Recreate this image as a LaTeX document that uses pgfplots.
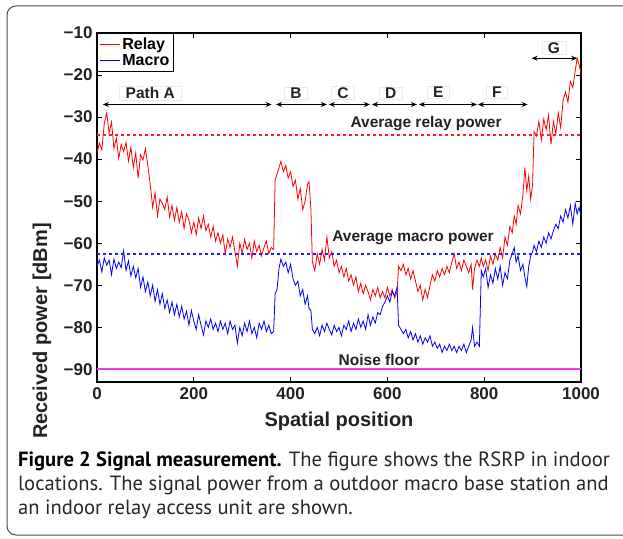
\documentclass[border=0pt]{standalone}
\usepackage{pgfplots}
\pgfplotsset{compat=1.18}
\usepackage{pgfplotstable}
\usetikzlibrary{arrows.meta}
\usepackage{fontspec}
\setmainfont{Liberation Sans}
\newfontfamily\capfont{PT Sans}
\definecolor{nf}{RGB}{240,60,240}
\definecolor{ravg}{RGB}{255,30,30}
\definecolor{mavg}{RGB}{30,30,255}
\definecolor{txt}{RGB}{34,34,34}

\pgfplotstableread{
x r m
0 -38.5 -65.5
5 -36.2 -64.0
10 -37.8 -66.8
15 -31.5 -63.5
20 -29.0 -65.2
25 -33.8 -64.0
30 -31.2 -67.5
35 -37.5 -63.8
40 -35.0 -66.0
45 -39.8 -64.5
50 -36.5 -65.8
55 -38.2 -61.8
60 -36.0 -66.5
65 -40.5 -64.2
70 -37.2 -67.8
75 -42.0 -65.5
80 -38.5 -68.2
85 -44.5 -66.0
90 -39.0 -70.5
95 -40.2 -68.0
100 -37.5 -71.5
105 -41.5 -69.2
110 -46.0 -72.5
115 -51.5 -70.0
120 -48.0 -73.8
125 -53.5 -71.0
130 -49.5 -74.5
135 -50.5 -72.0
140 -52.0 -75.5
145 -49.0 -73.5
150 -53.8 -76.5
155 -51.0 -74.0
160 -54.5 -77.0
165 -51.5 -74.5
170 -55.0 -77.5
175 -52.5 -75.0
180 -56.5 -78.0
185 -53.0 -76.2
190 -54.5 -79.5
195 -57.5 -76.0
200 -55.0 -78.5
205 -58.0 -80.5
210 -54.0 -77.0
215 -56.5 -79.5
220 -53.5 -81.8
225 -57.0 -78.5
230 -55.5 -80.0
235 -58.5 -78.0
240 -56.0 -80.5
245 -59.5 -79.0
250 -57.5 -81.0
255 -60.0 -78.5
260 -58.0 -80.5
265 -62.5 -79.0
270 -59.0 -81.5
275 -61.0 -78.5
280 -58.5 -80.5
285 -62.0 -79.5
290 -65.5 -83.8
295 -60.0 -80.0
300 -62.5 -82.0
305 -59.0 -79.0
310 -61.5 -81.0
315 -60.0 -78.5
320 -63.5 -81.5
325 -59.5 -80.0
330 -62.0 -82.5
335 -60.5 -79.0
340 -63.0 -80.5
345 -61.0 -78.5
350 -59.5 -81.0
355 -62.5 -79.5
360 -61.0 -81.5
365 -61.5 -81.0
368 -45.0 -72.0
372 -43.5 -71.0
376 -42.0 -66.0
380 -40.5 -63.8
385 -43.0 -65.5
390 -41.5 -64.5
395 -44.5 -67.0
400 -43.0 -65.0
405 -46.5 -68.5
410 -45.0 -70.0
415 -49.5 -69.0
420 -47.0 -72.5
425 -52.0 -71.0
430 -50.0 -74.5
435 -46.0 -72.5
438 -45.3 -75.5
442 -52.0 -76.0
445 -64.5 -80.5
450 -66.5 -81.5
455 -62.5 -80.0
460 -65.0 -82.0
465 -61.5 -79.5
470 -64.0 -81.0
475 -58.5 -79.0
480 -63.5 -80.5
485 -62.0 -81.8
490 -65.5 -79.5
495 -64.0 -81.0
500 -67.0 -80.0
505 -65.5 -82.0
510 -68.0 -79.5
515 -66.0 -80.5
520 -69.0 -78.5
525 -67.5 -81.0
530 -70.0 -79.0
535 -68.0 -80.5
540 -71.5 -78.0
545 -69.5 -80.0
550 -72.0 -78.5
555 -70.0 -80.5
560 -71.5 -77.0
565 -73.5 -79.5
570 -71.0 -77.5
575 -72.5 -79.0
580 -70.5 -76.5
585 -73.0 -77.0
590 -71.5 -75.0
595 -73.0 -74.0
600 -70.5 -72.5
605 -72.5 -74.0
610 -71.0 -71.5
615 -73.0 -72.5
620 -71.5 -70.5
623 -65.5 -79.5
628 -66.5 -80.5
633 -65.0 -81.5
638 -67.5 -80.5
643 -66.0 -82.5
648 -68.5 -81.0
653 -66.5 -83.0
658 -69.0 -81.5
663 -71.5 -83.5
668 -70.0 -82.0
673 -73.5 -84.0
678 -71.0 -82.5
683 -73.0 -83.5
688 -70.0 -82.0
693 -67.5 -84.5
698 -69.0 -83.5
703 -66.5 -85.0
708 -68.0 -84.0
713 -66.0 -86.0
718 -67.5 -84.5
723 -65.5 -85.5
728 -67.0 -84.0
733 -64.5 -85.5
738 -62.5 -84.5
743 -66.0 -86.0
748 -64.5 -84.5
753 -66.5 -85.5
758 -64.0 -84.0
763 -65.5 -86.0
768 -67.0 -84.5
773 -65.0 -83.0
776 -71.0 -80.0
780 -66.0 -84.5
785 -64.0 -83.5
790 -65.5 -84.5
794 -63.5 -66.5
798 -65.5 -68.0
803 -64.0 -66.0
808 -66.5 -70.5
813 -63.0 -67.5
818 -65.0 -69.5
823 -62.5 -66.0
828 -64.0 -68.5
833 -61.0 -65.5
838 -63.5 -70.0
843 -58.5 -67.0
848 -60.5 -68.5
853 -56.0 -64.0
858 -57.5 -62.5
862 -53.5 -61.0
866 -55.5 -64.5
870 -51.0 -63.0
875 -53.0 -66.5
880 -48.5 -65.0
884 -42.0 -68.0
888 -47.5 -70.3
892 -44.0 -65.5
896 -49.5 -63.0
900 -46.0 -62.0
903 -33.5 -60.5
908 -34.5 -62.0
913 -31.0 -59.5
918 -35.5 -61.0
923 -30.5 -58.5
928 -33.0 -60.0
933 -29.5 -57.5
938 -36.5 -59.0
943 -31.0 -57.0
948 -34.0 -55.5
953 -29.0 -56.5
958 -32.5 -53.5
963 -26.0 -55.0
968 -24.0 -52.0
973 -26.5 -54.0
978 -21.5 -51.0
983 -23.0 -55.5
988 -19.0 -50.5
992 -16.0 -53.0
996 -17.5 -51.5
1000 -19.5 -53.5
}\datatable

\pgfplotstableread{
x y
0 -34.3
1000 -34.3
}\relayavg
\pgfplotstableread{
x y
0 -62.5
1000 -62.5
}\macroavg
\pgfplotstableread{
x y
0 -90
1000 -90
}\noisefloor

\begin{document}
\begin{tikzpicture}[x=1pt,y=1pt]
\clip (0,0) rectangle (623,538);
\draw[black!70, line width=1pt, rounded corners=9pt] (7,3) rectangle (660,532);
\begin{axis}[
  at={(97pt,156pt)}, anchor=south west,
  scale only axis, width=484pt, height=349pt,
  xmin=0, xmax=1000, ymin=-93, ymax=-10,
  xtick={0,200,400,600,800,1000},
  ytick={-90,-80,-70,-60,-50,-40,-30,-20,-10},
  yticklabels={−90,−80,−70,−60,−50,−40,−30,−20,−10},
  xticklabels={0,200,400,600,800,1000},
  tick align=inside, major tick length=5pt,
  tick style={black, line width=0.8pt},
  axis line style={black, line width=1.2pt},
  ticklabel style={font=\fontsize{17}{17}\selectfont\bfseries, text=txt},
  xticklabel style={yshift=-2pt},
  yticklabel style={xshift=-1pt},
  legend style={at={(0,1)}, anchor=north west, draw=black, line width=1pt,
    font=\fontsize{16}{16}\selectfont\bfseries, inner xsep=2pt, inner ysep=2.5pt,
    row sep=-1pt},
  legend cell align=left,
  legend image code/.code={\draw[#1, line width=0.8pt] (0pt,0pt) -- (20pt,0pt);},
  clip=true,
]
\addplot[color=red, line width=0.8pt] table[x=x,y=r] {\datatable};
\addlegendentry{Relay}
\addplot[color=blue, line width=0.8pt] table[x=x,y=m] {\datatable};
\addlegendentry{Macro}
\addplot[color=ravg, line width=1.6pt, dashed, forget plot] table[x=x,y=y] {\relayavg};
\addplot[color=mavg, line width=1.6pt, dashed, forget plot] table[x=x,y=y] {\macroavg};
\addplot[color=nf, line width=1.8pt, forget plot] table[x=x,y=y] {\noisefloor};

\begin{scope}[every node/.style={font=\fontsize{15.5}{15.5}\selectfont\bfseries, text=txt}]
\node[fill=white, draw=black!8, inner xsep=6pt, inner ysep=1pt] at (axis cs:110,-24.3) {Path A};
\node[fill=white, draw=black!8, inner xsep=6pt, inner ysep=1pt] at (axis cs:411,-24.3) {B};
\node[fill=white, draw=black!8, inner xsep=6pt, inner ysep=1pt] at (axis cs:508,-24.3) {C};
\node[fill=white, draw=black!8, inner xsep=6pt, inner ysep=1pt] at (axis cs:607,-24.3) {D};
\node[fill=white, draw=black!8, inner xsep=6pt, inner ysep=1pt] at (axis cs:705,-24.1) {E};
\node[fill=white, draw=black!8, inner xsep=6pt, inner ysep=1pt] at (axis cs:826,-24.1) {F};
\node[fill=white, draw=black!8, inner xsep=6pt, inner ysep=1pt] at (axis cs:944,-13.6) {G};
\node at (axis cs:680,-31.6) {Average relay power};
\node at (axis cs:653,-58.7) {Average macro power};
\node at (axis cs:583,-87.8) {Noise floor};
\end{scope}
\begin{scope}[line width=0.9pt, black, {Stealth[length=6pt,width=5pt]}-{Stealth[length=6pt,width=5pt]}]
\draw (axis cs:12,-27) -- (axis cs:361,-27);
\draw (axis cs:370,-27) -- (axis cs:475,-27);
\draw (axis cs:479,-27) -- (axis cs:564,-27);
\draw (axis cs:568,-27) -- (axis cs:661,-27);
\draw (axis cs:665,-27) -- (axis cs:785,-27);
\draw (axis cs:787,-27) -- (axis cs:890,-27);
\draw (axis cs:898,-16) -- (axis cs:992,-16);
\end{scope}
\end{axis}
\node[font=\fontsize{20}{20}\selectfont\bfseries, text=txt, anchor=base] at (339,111) {Spatial position};
\node[font=\fontsize{20}{20}\selectfont\bfseries, text=txt, rotate=90, anchor=base] at (47,207) {Received power [dBm]};
\begin{scope}[every node/.style={anchor=base west, inner sep=0pt, text=black!85, font=\capfont\fontsize{20.6}{24}\selectfont}]
\node at (18,72) {\textbf{\color{black}Figure 2 Signal measurement.} The figure shows the RSRP in indoor};
\node at (18,48) {locations. The signal power from a outdoor macro base station and};
\node at (18,24) {an indoor relay access unit are shown.};
\end{scope}
\end{tikzpicture}
\end{document}
